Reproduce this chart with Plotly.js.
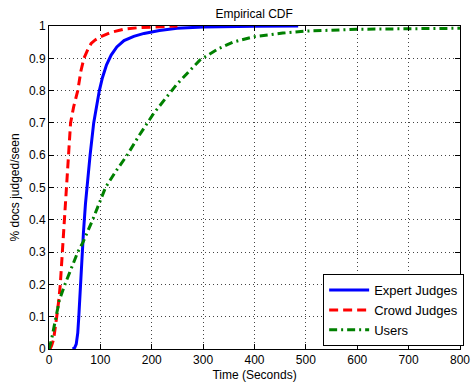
<!DOCTYPE html>
<html><head><meta charset="utf-8">
<script src="https://cdn.plot.ly/plotly-3.0.1.min.js"></script>
<style>html,body{margin:0;padding:0;background:#fff}</style>
</head><body><div id="chart" style="width:475px;height:382px"></div>
<script>
const expertX = [46, 50, 53, 56, 58, 61, 64, 67, 71, 75, 80, 87, 92, 98, 104, 112, 121, 132, 146, 165, 185, 215, 249, 300, 400, 485];
const expertY = [0, 0.004, 0.015, 0.05, 0.1, 0.2, 0.3, 0.36, 0.45, 0.52, 0.6, 0.7, 0.75, 0.8, 0.84, 0.88, 0.91, 0.935, 0.955, 0.968, 0.977, 0.986, 0.993, 0.997, 0.999, 1.0];
const crowdX = [2, 5, 9, 12, 15, 19, 22, 26, 30, 34, 37, 42, 48, 56, 62, 68, 75, 82, 90, 101, 120, 146, 175, 200, 250];
const crowdY = [0, 0.01, 0.03, 0.06, 0.1, 0.15, 0.2, 0.3, 0.4, 0.5, 0.6, 0.7, 0.75, 0.8, 0.86, 0.9, 0.925, 0.946, 0.957, 0.967, 0.98, 0.99, 0.995, 0.997, 1.0];
const usersX = [0, 5, 10, 14, 20, 31, 44, 56, 66, 85, 110, 130, 152, 175, 204, 249, 294, 330, 358, 400, 455, 499, 600, 700, 800];
const usersY = [0, 0.03, 0.07, 0.1, 0.15, 0.2, 0.25, 0.3, 0.33, 0.4, 0.5, 0.55, 0.6, 0.66, 0.73, 0.82, 0.895, 0.93, 0.95, 0.967, 0.978, 0.984, 0.99, 0.992, 0.993];
const xTicks = [0, 100, 200, 300, 400, 500, 600, 700, 800];
const yTicks = [0, 0.1, 0.2, 0.3, 0.4, 0.5, 0.6, 0.7, 0.8, 0.9, 1];
const yTickText = ['0', '0.1', '0.2', '0.3', '0.4', '0.5', '0.6', '0.7', '0.8', '0.9', '1'];

const traces = [
  {x: expertX, y: expertY, name: 'Expert Judges', mode: 'lines', line: {color: '#0000ff', width: 3}},
  {x: crowdX, y: crowdY, name: 'Crowd Judges', mode: 'lines', line: {color: '#ff0000', width: 3, dash: '9px,5px'}},
  {x: usersX, y: usersY, name: 'Users', mode: 'lines', line: {color: '#008000', width: 3, dash: '8px,4px,2px,4px'}}
];
const axisCommon = {
  showline: true, linecolor: '#000', linewidth: 1, mirror: 'ticks',
  ticks: 'inside', ticklen: 5, tickcolor: '#000',
  showgrid: true, gridcolor: '#444', gridwidth: 1, griddash: '1px,3px',
  zeroline: false, tickfont: {family: 'Liberation Sans, Arial, sans-serif', size: 12, color: '#000'}
};
const layout = {
  width: 475, height: 382,
  margin: {l: 49, r: 11, t: 26, b: 33},
  paper_bgcolor: '#fff', plot_bgcolor: '#fff',
  font: {family: 'Liberation Sans, Arial, sans-serif', size: 12, color: '#000'},
  title: {text: 'Empirical CDF', x: 0.535, xanchor: 'center', y: 0.975, yanchor: 'top', font: {size: 12}},
  xaxis: Object.assign({}, axisCommon, {range: [0, 800], tickvals: xTicks, title: {text: 'Time (Seconds)', font: {size: 12}}}),
  yaxis: Object.assign({}, axisCommon, {range: [0, 1], tickvals: yTicks, ticktext: yTickText, title: {text: '% docs judged/seen', standoff: 6, font: {size: 12}}}),
  showlegend: true,
  legend: {x: 0.667, y: 0.232, xanchor: 'left', yanchor: 'top', bgcolor: '#fff', bordercolor: '#000', borderwidth: 1,
    font: {size: 13}, tracegroupgap: 0, itemwidth: 40}
};
Plotly.newPlot('chart', traces, layout, {displayModeBar: false, staticPlot: true});
</script></body></html>
